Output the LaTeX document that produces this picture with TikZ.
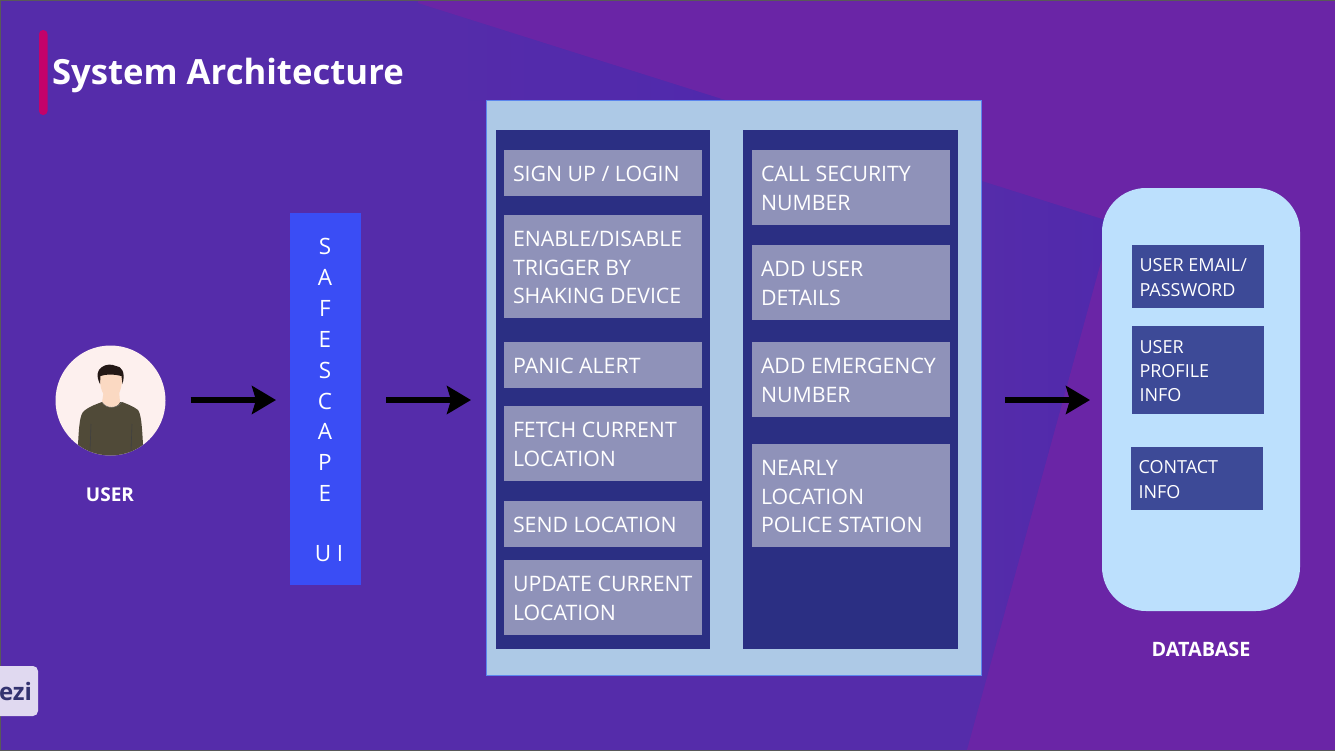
\documentclass[tikz,border=0pt]{standalone}
\usepackage{fontspec}
\setmainfont{Open Sans}
\usetikzlibrary{arrows.meta}
\definecolor{bgA}{HTML}{552CAA}
\definecolor{bgB}{HTML}{6A25A6}
\definecolor{bgC}{HTML}{5029AC}
\definecolor{panel}{HTML}{ADC9E6}
\definecolor{navy}{HTML}{2B2F83}
\definecolor{item}{HTML}{8F92B9}
\definecolor{uiblue}{HTML}{3A4DF5}
\definecolor{dbfill}{HTML}{BCE0FD}
\definecolor{dbitem}{HTML}{3D4A97}
\definecolor{shirt}{HTML}{504A38}
\definecolor{skin}{HTML}{FBD9C2}
\definecolor{hair}{HTML}{231815}
\definecolor{face}{HTML}{FDF0EE}
\definecolor{accent}{HTML}{C4026A}
\definecolor{edge}{HTML}{5C86EE}
\tikzset{
  x=1pt,y=-1pt,
  every node/.style={inner sep=0pt,outer sep=0pt},
  flow/.style={line width=6.5pt,-{Stealth[length=24pt,width=28pt,inset=4pt]},black},
  caption/.style={text=white,font=\bfseries\fontsize{#1}{22}\selectfont},
  itemfill/.style={fill=item,anchor=north west},
  itemtext/.style={text=white,font=\fontsize{21.3}{28.6}\selectfont,align=left,anchor=west},
  dbfillbox/.style={fill=dbitem,anchor=north west},
  dbtext/.style={text=white,font=\fontsize{18}{24.3}\selectfont,align=left,anchor=west},
  uitext/.style={text=white,font=\fontsize{22.5}{25}\selectfont}
}
\newcommand{\ibox}[6]{% name x y w h text
  \node[itemfill,minimum width=#4pt,minimum height=#5pt] (#1) at (#2,#3) {};
  \node[itemtext] (#1t) at ([xshift=9pt,yshift=-1pt]#1.west) {#6};
}
\newcommand{\dbox}[6]{%
  \node[dbfillbox,minimum width=#4pt,minimum height=#5pt] (#1) at (#2,#3) {};
  \node[dbtext] (#1t) at ([xshift=7.5pt,yshift=-1pt]#1.west) {#6};
}
\begin{document}
\begin{tikzpicture}
\useasboundingbox (0,0) rectangle (1335,750);
% background
\fill[bgA] (0,0) rectangle (1335,750);
\begin{scope}
\clip (418,3) -- (1112,222) -- (967,750) -- (0,750) -- (0,0) -- cycle;
\shade[left color=bgA,right color=bgC] (981,100) rectangle (1115,750);
\shade[left color=bgA,right color=bgC] (440,0) rectangle (720,100);
\end{scope}
\fill[bgB] (418,0) -- (1335,0) -- (1335,750) -- (967,750) -- (1112,222) -- (418,3) -- cycle;
\draw[color=gray!70!black,line width=1pt] (0,0) rectangle (1335,750);
% title
\fill[rounded corners=4pt,fill=accent] (39,30) rectangle (47.5,115);
\node[anchor=base west,text=white,font=\bfseries\fontsize{34.7}{40}\selectfont] (title) at (52,84) {System Architecture};
% badge
\begin{scope}
\clip (0,660) rectangle (40,720);
\fill[rounded corners=5pt,fill=white!82!bgA] (-30,666) rectangle (38,716);
\node[anchor=base east,text=black!70!blue!80,font=\bfseries\fontsize{24}{28}\selectfont] (badge) at (32,700) {ezi};
\end{scope}
% user
\node[circle,fill=face,minimum size=110pt] (user) at (110.5,400.5) {};
\begin{scope}
\clip (110.5,400.5) circle (55pt);
\fill[shirt] (76,460) -- (78,445) .. controls (79,425) and (80,414) .. (84,411) .. controls (90,406) and (97,404) .. (102,402) -- (122,402) .. controls (127,404) and (133,406) .. (138,410) .. controls (141,414) and (142,425) .. (143,445) -- (145,460) -- cycle;
\draw[black!75,line width=.6pt] (90,452) -- (91,424);
\draw[black!75,line width=.6pt] (131,452) -- (132,424);
\fill[skin] (104,390) -- (119,390) -- (120,402) .. controls (117,409) and (106,409) .. (102,402) -- cycle;
\draw[black!55,line width=.4pt] (102,402) .. controls (106,409) and (117,409) .. (122,402);
\fill[skin] (100,372) -- (122,372) .. controls (123,389) and (119,398) .. (111,398) .. controls (103,398) and (99,389) .. (100,372) -- cycle;
\fill[hair] (100,384) .. controls (96,376) and (97,370) .. (102,367) .. controls (106,364) and (112,364) .. (116,366) .. controls (121,366) and (126,372) .. (122.5,384) -- (121.5,376) .. controls (114,374) and (106,374) .. (100.5,376) -- cycle;
\end{scope}
\node[caption=19] (userlabel) at (110,495) {USER};
% UI
\node[fill=uiblue,minimum width=71pt,minimum height=372pt,anchor=north west] (ui) at (290,213) {};
\foreach \t/\y/\n in {S/246/a,A/277/b,F/308/c,E/339/d,S/370/e,C/401/f,A/431/g,P/462/h,E/493/i}
  \node[uitext] (ui\n) at (325,\y) {\t};
\node[uitext] (uij) at (329,554) {U I};
% main panel
\node[fill=panel,draw=edge,line width=.8pt,minimum width=495pt,minimum height=575pt,anchor=north west] (main) at (486,100) {};
\node[fill=navy,minimum width=214pt,minimum height=519pt,anchor=north west] (colL) at (496,130) {};
\node[fill=navy,minimum width=215pt,minimum height=519pt,anchor=north west] (colR) at (743,130) {};
\ibox{a1}{504}{150}{198}{46}{SIGN UP / LOGIN}
\ibox{a2}{504}{215}{198}{103}{ENABLE/DISABLE\\TRIGGER BY\\SHAKING DEVICE}
\ibox{a3}{504}{342}{198}{46}{PANIC ALERT}
\ibox{a4}{504}{406}{198}{75}{FETCH CURRENT\\LOCATION}
\ibox{a5}{504}{501}{198}{46}{SEND LOCATION}
\ibox{a6}{504}{560}{198}{75}{UPDATE CURRENT\\LOCATION}
\ibox{b1}{752}{150}{198}{75}{CALL SECURITY\\NUMBER}
\ibox{b2}{752}{245}{198}{75}{ADD USER\\DETAILS}
\ibox{b3}{752}{342}{198}{75}{ADD EMERGENCY\\NUMBER}
\ibox{b4}{752}{444}{198}{103}{NEARLY\\LOCATION\\POLICE STATION}
% database
\node[fill=dbfill,rounded corners=44pt,minimum width=198pt,minimum height=423pt,anchor=north west] (db) at (1102,188) {};
\dbox{c1}{1132}{245}{132}{63}{USER EMAIL/\\PASSWORD}
\dbox{c2}{1132}{326}{132}{88}{USER\\PROFILE\\INFO}
\dbox{c3}{1131}{447}{132}{63}{CONTACT\\INFO}
\node[caption=19.8] (dblabel) at (1201,649) {DATABASE};
% arrows
\draw[flow,shorten <=25pt,shorten >=14pt] (user.east |- 0,400) -- (ui.west |- 0,400);
\draw[flow,shorten <=25pt,shorten >=15pt] (ui.east |- 0,400) -- (main.west |- 0,400);
\draw[flow,shorten <=24pt,shorten >=12pt] (main.east |- 0,400) -- (db.west |- 0,400);
\end{tikzpicture}
\end{document}
